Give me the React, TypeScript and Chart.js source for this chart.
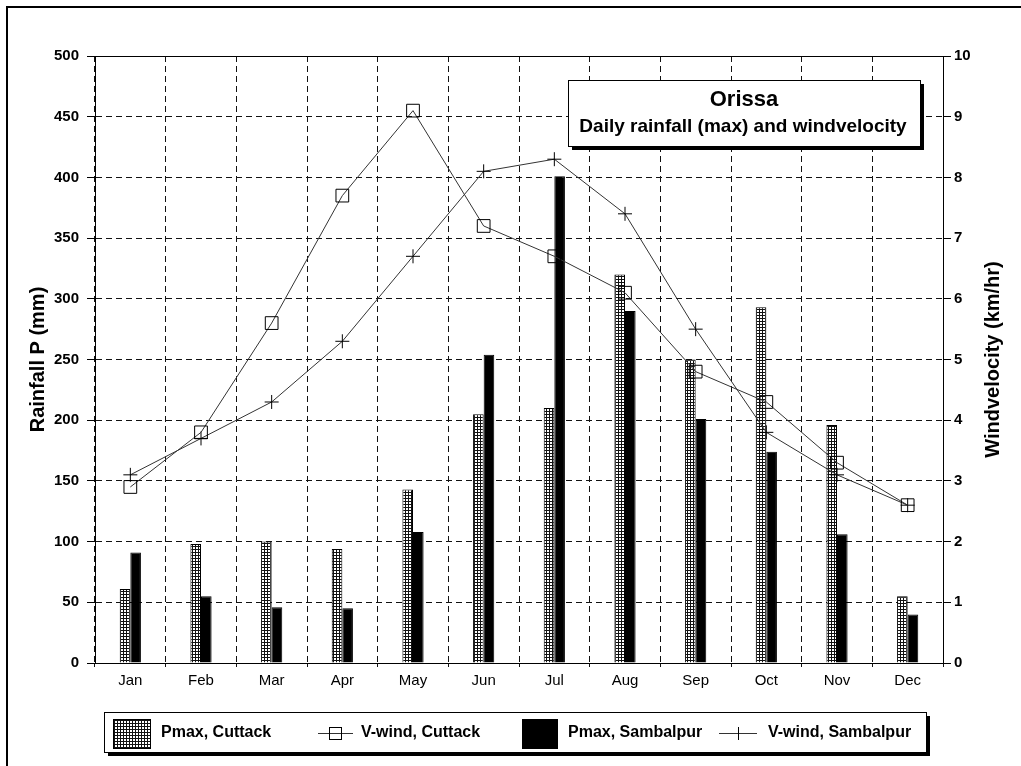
import React, { useEffect, useRef } from "react";
import { Chart, registerables } from "chart.js";
Chart.register(...registerables);

const months = ["Jan", "Feb", "Mar", "Apr", "May", "Jun", "Jul", "Aug", "Sep", "Oct", "Nov", "Dec"];
const pmaxCuttack = [61, 98, 100, 94, 143, 205, 210, 320, 250, 293, 196, 55];
const pmaxSambalpur = [91, 55, 46, 45, 108, 254, 401, 290, 201, 174, 106, 40];
const windCuttack = [2.9, 3.8, 5.6, 7.7, 9.1, 7.2, 6.7, 6.1, 4.8, 4.3, 3.3, 2.6];
const windSambalpur = [3.1, 3.7, 4.3, 5.3, 6.7, 8.1, 8.3, 7.4, 5.5, 3.8, 3.1, 2.6];
const seriesNames = ["Pmax, Cuttack", "V-wind, Cuttack", "Pmax, Sambalpur", "V-wind, Sambalpur"];
const titleLines = ["Orissa", "Daily rainfall (max) and windvelocity"];
const leftAxisTitle = "Rainfall P (mm)";
const rightAxisTitle = "Windvelocity (km/hr)";

const FONT = "'Liberation Sans', Arial, sans-serif";
const LINE_COLOR = "#333";
const GRID_COLOR = "#111";

function makeHatch(): CanvasPattern | string {
  const c = document.createElement("canvas");
  c.width = 3;
  c.height = 3;
  const g = c.getContext("2d");
  if (!g) return "#888";
  g.fillStyle = "#fff";
  g.fillRect(0, 0, 3, 3);
  g.fillStyle = "#111";
  g.fillRect(0, 0, 3, 1);
  g.fillRect(0, 0, 1, 3);
  const p = g.createPattern(c, "repeat");
  return p || "#888";
}

function shadowBox(ctx: CanvasRenderingContext2D, x: number, y: number, w: number, h: number) {
  ctx.fillStyle = "#000";
  ctx.fillRect(x + 4, y + 4, w, h);
  ctx.fillStyle = "#fff";
  ctx.fillRect(x, y, w, h);
  ctx.strokeStyle = "#000";
  ctx.lineWidth = 1;
  ctx.strokeRect(x + 0.5, y + 0.5, w, h);
}

export default function App() {
  const ref = useRef<HTMLCanvasElement | null>(null);

  useEffect(() => {
    if (!ref.current) return;
    const hatch = makeHatch();

    const decor = {
      id: "decor",
      afterDraw(chart: any) {
        const ctx: CanvasRenderingContext2D = chart.ctx;
        const a = chart.chartArea;
        ctx.save();
        ctx.setLineDash([]);
        // top solid border of plot area
        ctx.strokeStyle = "#000";
        ctx.lineWidth = 1;
        ctx.beginPath();
        ctx.moveTo(a.left, Math.round(a.top) + 0.5);
        ctx.lineTo(a.right, Math.round(a.top) + 0.5);
        ctx.stroke();
        // outer frame
        ctx.lineWidth = 2;
        ctx.beginPath();
        ctx.moveTo(7, 766);
        ctx.lineTo(7, 7);
        ctx.lineTo(1021, 7);
        ctx.stroke();

        // axis titles
        ctx.fillStyle = "#000";
        ctx.font = `bold 20px ${FONT}`;
        ctx.textAlign = "center";
        ctx.textBaseline = "middle";
        const midY = (a.top + a.bottom) / 2;
        ctx.save();
        ctx.translate(38, midY);
        ctx.rotate(-Math.PI / 2);
        ctx.fillText(leftAxisTitle, 0, 0);
        ctx.restore();
        ctx.save();
        ctx.translate(993, midY);
        ctx.rotate(-Math.PI / 2);
        ctx.fillText(rightAxisTitle, 0, 0);
        ctx.restore();

        // title box
        shadowBox(ctx, 568, 80, 352, 66);
        ctx.fillStyle = "#000";
        ctx.textAlign = "center";
        ctx.textBaseline = "middle";
        ctx.font = `bold 22px ${FONT}`;
        ctx.fillText(titleLines[0], 744, 100);
        ctx.font = `bold 19px ${FONT}`;
        ctx.fillText(titleLines[1], 743, 127);

        // legend box
        shadowBox(ctx, 104, 712, 822, 40);
        const ly = 733;
        ctx.font = `bold 16px ${FONT}`;
        ctx.textAlign = "left";
        ctx.textBaseline = "middle";
        // hatched swatch
        ctx.fillStyle = hatch as any;
        ctx.fillRect(113, 719, 37, 29);
        ctx.strokeStyle = "#000";
        ctx.lineWidth = 1;
        ctx.strokeRect(113.5, 719.5, 37, 29);
        ctx.fillStyle = "#000";
        ctx.fillText(seriesNames[0], 161, ly);
        // line + square
        ctx.strokeStyle = LINE_COLOR;
        ctx.beginPath();
        ctx.moveTo(318, ly + 0.5);
        ctx.lineTo(353, ly + 0.5);
        ctx.stroke();
        ctx.strokeStyle = "#000";
        ctx.strokeRect(329.5, 727.5, 12, 12);
        ctx.fillText(seriesNames[1], 361, ly);
        // black swatch
        ctx.fillRect(522, 719, 36, 30);
        ctx.fillText(seriesNames[2], 568, ly);
        // line + cross
        ctx.strokeStyle = LINE_COLOR;
        ctx.beginPath();
        ctx.moveTo(719, ly + 0.5);
        ctx.lineTo(757, ly + 0.5);
        ctx.stroke();
        ctx.strokeStyle = "#000";
        ctx.beginPath();
        ctx.moveTo(738.5, ly - 6);
        ctx.lineTo(738.5, ly + 7);
        ctx.stroke();
        ctx.fillText(seriesNames[3], 768, ly);
        ctx.restore();
      },
    };

    const chart = new Chart(ref.current, {
      type: "bar",
      data: {
        labels: months,
        datasets: [
          {
            type: "bar",
            label: seriesNames[0],
            data: pmaxCuttack,
            backgroundColor: hatch as any,
            borderColor: "#000",
            borderWidth: 1,
            yAxisID: "y",
            order: 2,
            categoryPercentage: 0.3,
            barPercentage: 1.0,
          },
          {
            type: "line",
            label: seriesNames[1],
            data: windCuttack,
            borderColor: LINE_COLOR,
            borderWidth: 1,
            pointStyle: "rect",
            pointRadius: 9,
            pointBorderColor: "#000",
            pointBackgroundColor: "rgba(0,0,0,0)",
            pointBorderWidth: 1,
            yAxisID: "y1",
            order: 1,
          },
          {
            type: "bar",
            label: seriesNames[2],
            data: pmaxSambalpur,
            backgroundColor: "#000",
            borderColor: "#000",
            borderWidth: 1,
            yAxisID: "y",
            order: 2,
            categoryPercentage: 0.3,
            barPercentage: 1.0,
          },
          {
            type: "line",
            label: seriesNames[3],
            data: windSambalpur,
            borderColor: LINE_COLOR,
            borderWidth: 1,
            pointStyle: "cross",
            pointRadius: 7,
            pointBorderColor: "#000",
            pointBorderWidth: 1,
            yAxisID: "y1",
            order: 1,
          },
        ] as any,
      },
      options: {
        responsive: false,
        animation: false,
        events: [],
        layout: { padding: { top: 56, left: 0, right: 0, bottom: 0 } },
        plugins: {
          legend: { display: false },
          title: { display: false },
          tooltip: { enabled: false },
        },
        scales: {
          x: {
            type: "category",
            offset: true,
            grid: {
              display: true,
              offset: true,
              color: GRID_COLOR,
              lineWidth: 1,
              drawTicks: true,
              tickLength: 7,
              tickColor: GRID_COLOR,
              tickBorderDash: [3, 3],
            },
            border: { display: true, color: "#000", width: 1, dash: [6, 4] },
            ticks: {
              color: "#000",
              font: { family: FONT, size: 15 },
              padding: 2,
              maxRotation: 0,
            },
            afterFit: (s: any) => {
              s.height = 103;
            },
          },
          y: {
            type: "linear",
            position: "left",
            min: 0,
            max: 500,
            ticks: {
              stepSize: 50,
              color: "#000",
              font: { family: FONT, size: 15, weight: "bold" },
              padding: 8,
            },
            grid: {
              color: GRID_COLOR,
              lineWidth: 1,
              drawTicks: true,
              tickLength: 8,
              tickColor: "#000",
              tickBorderDash: [],
            },
            border: { display: true, color: "#000", width: 1, dash: [6, 4] },
            afterFit: (s: any) => {
              s.width = 95;
            },
          },
          y1: {
            type: "linear",
            position: "right",
            min: 0,
            max: 10,
            ticks: {
              stepSize: 1,
              color: "#000",
              font: { family: FONT, size: 15, weight: "bold" },
              padding: 3,
            },
            grid: {
              drawOnChartArea: false,
              drawTicks: true,
              tickLength: 8,
              tickColor: "#000",
            },
            border: { display: true, color: "#000", width: 1 },
            afterFit: (s: any) => {
              s.width = 78;
            },
          },
        },
      } as any,
      plugins: [decor],
    });

    return () => chart.destroy();
  }, []);

  return (
    <div style={{ position: "fixed", left: 0, top: 0, width: 1021, height: 766, background: "#fff" }}>
      <canvas ref={ref} width={1021} height={766} style={{ display: "block" }} />
    </div>
  );
}
